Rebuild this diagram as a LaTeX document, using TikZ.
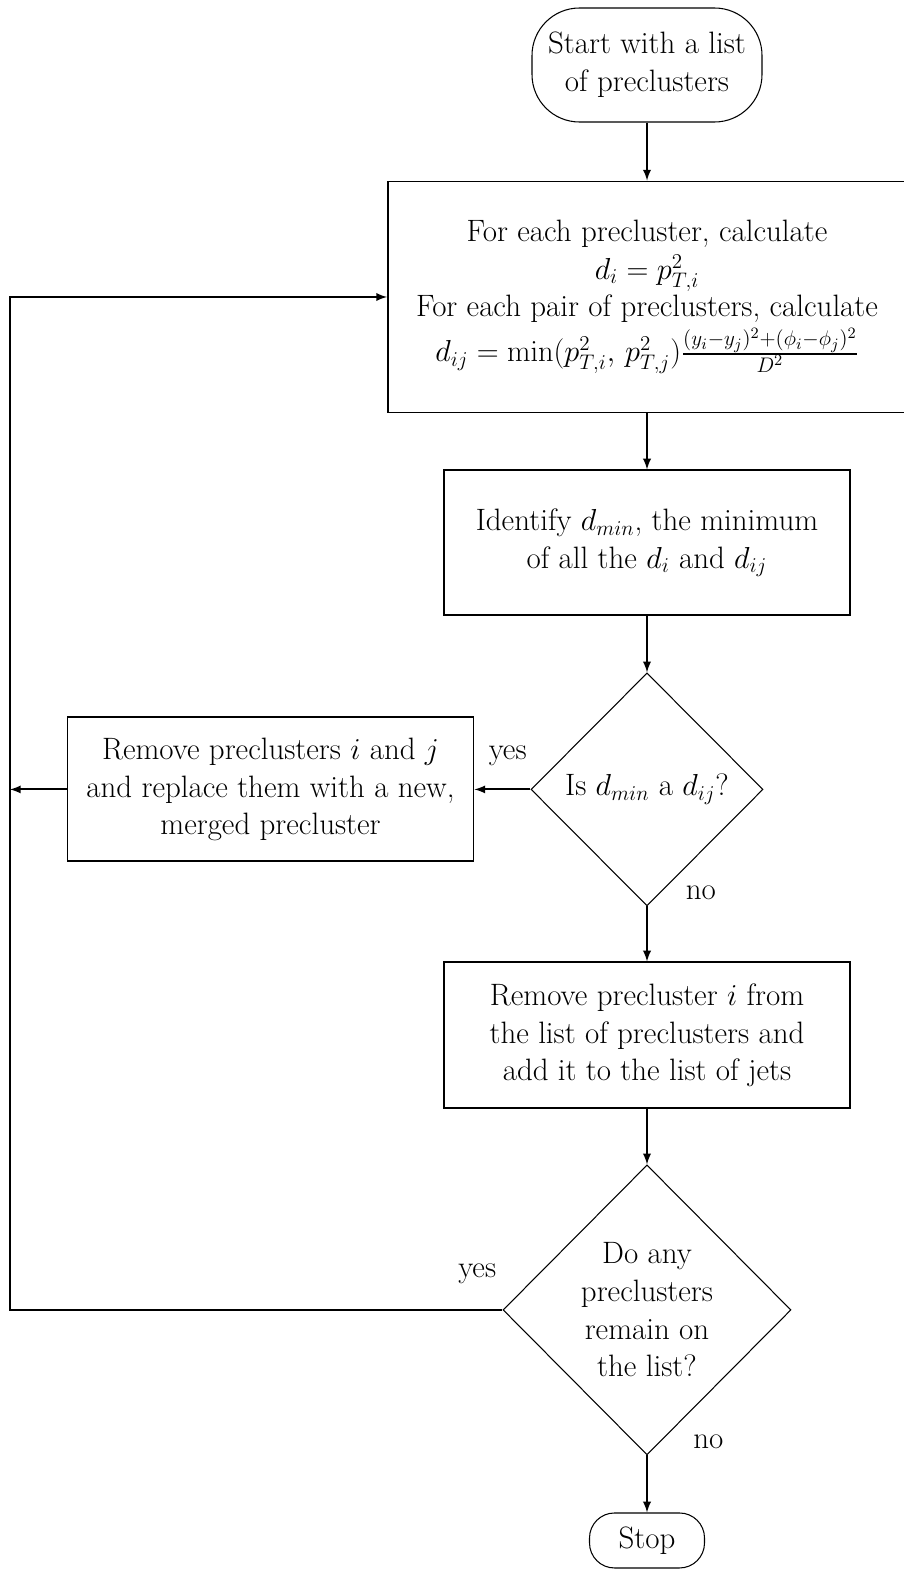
\documentclass[tikz,border=0pt]{standalone}
\usepackage{amsmath,amssymb}
\usepackage{tikz}
\usetikzlibrary{shapes.geometric, arrows, positioning, calc}

\newcommand{\chartfont}{\fontsize{17.6}{21.4}\selectfont}

\begin{document}
\begin{tikzpicture}[
    node distance=1.12cm,
    >=latex,
    terminal/.style={rectangle, draw, line width=0.6pt, align=center,
      font=\chartfont},
    block/.style={rectangle, draw, line width=1.1pt, align=center,
      minimum width=8.12cm, minimum height=2.9cm, font=\chartfont},
    decision/.style={diamond, draw, line width=0.6pt, align=center,
      inner sep=0pt, font=\chartfont},
    label/.style={font=\chartfont, inner sep=2pt},
    flow/.style={->, line width=1.1pt}
]
\useasboundingbox (0,0) rectangle (18.06,-31.38);

\node[terminal, minimum width=4.6cm, minimum height=2.28cm,
  rounded corners=0.95cm] (start) at (12.94,-1.3)
  {Start with a list\\of preclusters};
\node[block, minimum width=10.36cm, minimum height=4.62cm,
  below=1.16cm of start] (calc)
  {For each precluster, calculate\\
   $d_i = p_{T,i}^2$\\
   For each pair of preclusters, calculate\\[2pt]
   $d_{ij} = \min(p_{T,i}^2,\, p_{T,j}^2)\frac{(y_i-y_j)^2+(\phi_i-\phi_j)^2}{D^2}$};
\node[block, below=of calc] (ident)
  {Identify $d_{min}$, the minimum\\of all the $d_i$ and $d_{ij}$};
\node[decision, minimum width=4.64cm, minimum height=4.66cm,
  below=of ident] (isdij) {Is $d_{min}$ a $d_{ij}$?};
\node[block, minimum height=2.88cm, left=1.12cm of isdij] (merge)
  {Remove preclusters $i$ and $j$\\and replace them with a new,\\merged precluster};
\node[block, minimum height=2.92cm, below=1.1cm of isdij] (tojet)
  {Remove precluster $i$ from\\the list of preclusters and\\add it to the list of jets};
\node[decision, minimum width=5.76cm, minimum height=5.8cm,
  below=1.1cm of tojet] (remain)
  {Do any\\preclusters\\remain on\\the list?};
\node[terminal, minimum width=2.3cm, minimum height=1.1cm,
  rounded corners=0.5cm, below=1.14cm of remain] (stop) {Stop};

% left return line
\coordinate (edge) at (0.2,0);

\draw[flow] (start) -- (calc);
\draw[flow] (calc) -- (ident);
\draw[flow] (ident) -- (isdij);
\draw[flow] (isdij) -- (merge);
\draw[flow] (isdij) -- (tojet);
\draw[flow] (tojet) -- (remain);
\draw[flow] (remain) -- (stop);
\draw[flow] (merge.west) -- (merge.west -| edge);
\draw[flow] (remain.west) -- (remain.west -| edge) |- (calc.west);

\node[label, above left=0.4cm and 0cm of isdij.west] (yes1) {yes};
\node[label, above right=0.05cm and 0.7cm of isdij.south] (no1) {no};
\node[label, above left=0.45cm and 0.05cm of remain.west] (yes2) {yes};
\node[label, above right=0.05cm and 0.85cm of remain.south] (no2) {no};

\end{tikzpicture}
\end{document}
